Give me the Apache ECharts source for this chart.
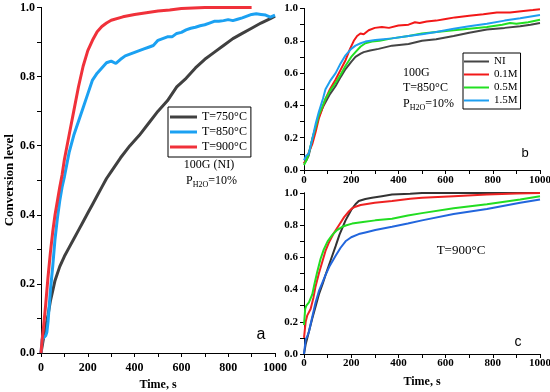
<!DOCTYPE html>
<html><head><meta charset="utf-8">
<script src="https://cdn.jsdelivr.net/npm/echarts@6/dist/echarts.min.js"></script>
<style>html,body{margin:0;padding:0;background:#fff}#c{width:550px;height:392px}</style>
</head><body><div id="c"></div>
<script>
// ---------- Panel a : 100G (NI), PH2O=10% ----------
const aT750 = [0,10,20,30,40,50,60,80,100,120,140,160,180,200,220,240,260,280,300,340,380,420,460,500,540,580,620,660,700,740,780,820,860,900,940,980,1000];
const aY750 = [0,0.04,0.075,0.11,0.15,0.18,0.21,0.25,0.28,0.305,0.33,0.355,0.38,0.405,0.43,0.455,0.48,0.505,0.525,0.565,0.6,0.63,0.665,0.70,0.73,0.77,0.795,0.825,0.85,0.87,0.89,0.91,0.925,0.94,0.955,0.968,0.975];
const aT850 = [0,5,10,20,25,30,40,50,60,70,80,90,100,120,140,160,180,200,220,240,260,280,300,320,340,360,380,400,420,440,460,480,500,520,540,560,580,600,620,640,660,680,700,720,740,760,780,800,820,840,860,880,900,920,940,960,980,1000];
const aY850 = [0,0.04,0.045,0.05,0.06,0.09,0.18,0.25,0.33,0.39,0.44,0.48,0.51,0.58,0.63,0.67,0.71,0.75,0.79,0.81,0.825,0.84,0.845,0.838,0.85,0.86,0.865,0.87,0.875,0.88,0.885,0.89,0.905,0.91,0.915,0.915,0.925,0.928,0.935,0.94,0.943,0.947,0.95,0.955,0.96,0.96,0.962,0.965,0.962,0.966,0.97,0.975,0.98,0.982,0.98,0.978,0.972,0.978];
const aT900 = [0,5,10,20,30,40,50,60,70,80,90,100,120,140,160,180,200,220,240,260,280,300,350,400,450,500,550,600,700,800,900];
const aY900 = [0,0.04,0.07,0.14,0.22,0.29,0.35,0.40,0.44,0.48,0.515,0.56,0.63,0.70,0.77,0.83,0.875,0.905,0.93,0.945,0.955,0.963,0.973,0.98,0.985,0.99,0.993,0.997,1.0,1.0,1.0];

// ---------- Panel b : 100G, T=850°C ----------
const bTNI = [0,10,20,35,50,63,80,91,110,134,155,176,200,218,240,253,280,316,373,443,500,560,634,700,775,850,916,960,1000];
const bYNI = [0.04,0.06,0.09,0.19,0.27,0.33,0.39,0.42,0.47,0.52,0.575,0.625,0.67,0.70,0.72,0.73,0.74,0.75,0.77,0.78,0.80,0.81,0.83,0.85,0.87,0.88,0.89,0.90,0.91];
const bT01 = [0,10,21,35,50,63,80,91,110,134,155,176,195,211,225,239,253,274,300,330,360,400,443,470,490,520,560,600,640,700,760,817,873,930,970,1000];
const bY01 = [0.04,0.07,0.11,0.16,0.24,0.32,0.39,0.44,0.50,0.56,0.62,0.68,0.75,0.80,0.83,0.845,0.84,0.865,0.88,0.885,0.88,0.895,0.90,0.915,0.91,0.92,0.925,0.935,0.945,0.955,0.965,0.975,0.975,0.985,0.99,0.995];
const bT05 = [0,10,20,35,50,63,80,91,110,134,155,176,200,218,240,260,288,320,373,443,500,560,634,700,775,840,873,900,950,1000];
const bY05 = [0.03,0.06,0.10,0.19,0.27,0.34,0.40,0.44,0.49,0.54,0.59,0.645,0.70,0.73,0.765,0.785,0.795,0.80,0.815,0.83,0.845,0.855,0.865,0.875,0.885,0.90,0.91,0.905,0.915,0.93];
const bT15 = [0,10,20,35,50,63,80,91,110,134,155,176,200,218,240,260,302,373,443,500,560,634,700,775,850,916,1000];
const bY15 = [0.06,0.09,0.10,0.19,0.29,0.36,0.44,0.50,0.55,0.60,0.66,0.71,0.75,0.77,0.785,0.795,0.805,0.815,0.83,0.84,0.855,0.875,0.89,0.905,0.925,0.94,0.96];

// ---------- Panel c : T=900°C ----------
const cTNI = [0,7,14,20,35,50,63,80,91,110,134,150,176,200,218,232,260,288,330,373,450,500,600,800,1000];
const cYNI = [0,0.06,0.10,0.11,0.22,0.30,0.37,0.44,0.49,0.57,0.67,0.74,0.83,0.895,0.93,0.95,0.963,0.97,0.98,0.99,0.995,1.0,1.0,1.0,1.0];
const cT01 = [0,7,14,28,40,49,63,77,91,105,126,148,170,190,204,218,240,260,300,373,450,500,634,775,900,1000];
const cY01 = [0.10,0.20,0.24,0.28,0.35,0.42,0.50,0.57,0.64,0.69,0.75,0.80,0.85,0.885,0.905,0.915,0.925,0.93,0.94,0.95,0.965,0.97,0.98,0.99,0.997,1.0];
const cT05 = [0,5,10,21,35,45,56,70,84,100,120,140,162,180,204,250,302,373,440,500,634,775,916,1000];
const cY05 = [0.18,0.28,0.30,0.32,0.37,0.44,0.51,0.59,0.65,0.70,0.74,0.77,0.79,0.80,0.81,0.82,0.83,0.84,0.86,0.875,0.905,0.93,0.96,0.98];
const cT15 = [0,7,14,21,35,49,63,77,91,110,134,155,176,200,232,260,302,373,440,500,634,775,916,1000];
const cY15 = [0,0.09,0.11,0.14,0.23,0.32,0.39,0.44,0.49,0.55,0.61,0.66,0.70,0.725,0.745,0.755,0.77,0.79,0.81,0.83,0.87,0.90,0.94,0.96];

const yTicks = [0,0.2,0.4,0.6,0.8,1.0];
const xTicks = [0,200,400,600,800,1000];

const zip = (t, y) => t.map((v, i) => [v, y[i]]);
const SERIF = 'Liberation Serif, Times New Roman, serif';

function axes(gi, o) {
  const lab = {show:true, fontFamily:SERIF, fontWeight:'bold', fontSize:o.fs, color:'#000'};
  const line = {show:true, lineStyle:{color:'#000', width:1}};
  const xs = [
    {gridIndex:gi, type:'value', min:xTicks[0], max:xTicks[xTicks.length-1], interval:200, position:'bottom',
     axisLine:line, axisTick:{show:true, inside:false, length:4, lineStyle:{color:'#000'}},
     minorTick:{show:true, splitNumber:2, length:2.5, lineStyle:{color:'#000'}},
     splitLine:{show:false}, axisLabel:Object.assign({margin:o.xm, formatter:v=>String(v)}, lab),
     name:o.xname||'', nameLocation:'middle', nameGap:o.xng||22,
     nameTextStyle:{fontFamily:SERIF, fontWeight:'bold', fontSize:o.nfs||12, color:'#000'}},
    {gridIndex:gi, type:'value', min:0, max:1000, interval:200, position:'top',
     axisLine:line, axisTick:{show:true, inside:true, length:4, lineStyle:{color:'#000'}},
     minorTick:{show:true, splitNumber:2, length:4, lineStyle:{color:'#000'}},
     splitLine:{show:false}, axisLabel:{show:false}}
  ];
  const ys = [
    {gridIndex:gi, type:'value', min:yTicks[0], max:yTicks[yTicks.length-1], interval:0.2, position:'left',
     axisLine:line, axisTick:{show:true, inside:false, length:4, lineStyle:{color:'#000'}},
     minorTick:{show:true, splitNumber:2, length:2.5, lineStyle:{color:'#000'}},
     splitLine:{show:false}, axisLabel:Object.assign({margin:o.ym, formatter:v=>v.toFixed(1)}, lab),
     name:o.yname||'', nameLocation:'middle', nameGap:o.yng||26,
     nameTextStyle:{fontFamily:SERIF, fontWeight:'bold', fontSize:13, color:'#000'}},
    {gridIndex:gi, type:'value', min:0, max:1, interval:0.2, position:'right',
     axisLine:line, axisTick:{show:true, inside:true, length:4, lineStyle:{color:'#000'}},
     minorTick:{show:true, splitNumber:2, length:4, lineStyle:{color:'#000'}},
     splitLine:{show:false}, axisLabel:{show:false}}
  ];
  return {xs, ys};
}

const A = axes(0, {fs:12, xm:9, ym:6, xname:'Time, s', xng:24, yname:'Conversion level', yng:25});
const B = axes(1, {fs:11, xm:5, ym:6});
const C = axes(2, {fs:11, xm:4, ym:6, xname:'Time, s', xng:22});

function ser(name, gi, t, y, color, w) {
  return {name, type:'line', xAxisIndex:2*gi, yAxisIndex:2*gi, data:zip(t, y),
    symbol:'none', smooth:false, lineStyle:{color, width:w}, itemStyle:{color}, silent:true, animation:false, z:3};
}

const sub = {
  n:{fontFamily:SERIF, fontSize:12, color:'#000', lineHeight:16, verticalAlign:'middle'},
  s:{fontFamily:SERIF, fontSize:8, color:'#000', lineHeight:9, verticalAlign:'bottom'}
};

const option = {
  animation:false,
  backgroundColor:'#fff',
  grid:[
    {left:41, top:7.5, width:234, height:345.5, outerBoundsMode:'none', containLabel:false},
    {left:304, top:8.5, width:236, height:161.5, outerBoundsMode:'none', containLabel:false},
    {left:304, top:193, width:236, height:161, outerBoundsMode:'none', containLabel:false}
  ],
  xAxis:[...A.xs, ...B.xs, ...C.xs],
  yAxis:[...A.ys, ...B.ys, ...C.ys],
  legend:[
    {data:['T=750°C','T=850°C','T=900°C'], orient:'vertical', left:168, top:107,
     icon:'rect', itemWidth:27, itemHeight:3, itemGap:1, padding:[3,4,3,2],
     backgroundColor:'#fff', borderColor:'#000', borderWidth:1, borderRadius:0,
     textStyle:{fontFamily:SERIF, fontSize:12, color:'#000', lineHeight:14}, selectedMode:false},
    {data:['NI','0.1M','0.5M','1.5M'], orient:'vertical', left:463, top:53,
     icon:'rect', itemWidth:25, itemHeight:2, itemGap:0, padding:[2,3,2,1],
     backgroundColor:'#fff', borderColor:'#000', borderWidth:1, borderRadius:0,
     textStyle:{fontFamily:SERIF, fontSize:11, color:'#000', lineHeight:13}, selectedMode:false}
  ],
  graphic:[
    {type:'text', x:209, y:165, style:{text:'100G (NI)', font:'12px '+SERIF, fill:'#000', align:'center', verticalAlign:'middle'}},
    {type:'text', x:186, y:181, style:{text:'{n|P}{s|H2O}{n|=10%}', rich:sub, align:'left', verticalAlign:'middle'}},
    {type:'text', x:261, y:335, style:{text:'a', font:'16px Liberation Sans, Arial, sans-serif', fill:'#000', align:'center', verticalAlign:'middle'}},
    {type:'text', x:403, y:73, style:{text:'100G', font:'12px '+SERIF, fill:'#000', align:'left', verticalAlign:'middle'}},
    {type:'text', x:403, y:88, style:{text:'T=850°C', font:'12px '+SERIF, fill:'#000', align:'left', verticalAlign:'middle'}},
    {type:'text', x:403, y:104, style:{text:'{n|P}{s|H2O}{n|=10%}', rich:sub, align:'left', verticalAlign:'middle'}},
    {type:'text', x:525, y:153, style:{text:'b', font:'13px Liberation Sans, Arial, sans-serif', fill:'#000', align:'center', verticalAlign:'middle'}},
    {type:'text', x:461, y:251, style:{text:'T=900°C', font:'13px '+SERIF, fill:'#000', align:'center', verticalAlign:'middle'}},
    {type:'text', x:518, y:342, style:{text:'c', font:'14px Liberation Sans, Arial, sans-serif', fill:'#000', align:'center', verticalAlign:'middle'}}
  ],
  series:[
    ser('T=750°C', 0, aT750, aY750, '#404040', 3),
    ser('T=850°C', 0, aT850, aY850, '#1ba1f2', 3),
    ser('T=900°C', 0, aT900, aY900, '#f0313a', 3),
    ser('NI', 1, bTNI, bYNI, '#454545', 2),
    ser('0.1M', 1, bT01, bY01, '#f21818', 2),
    ser('0.5M', 1, bT05, bY05, '#22e022', 2),
    ser('1.5M', 1, bT15, bY15, '#1e9ff0', 2),
    ser('NI-c', 2, cTNI, cYNI, '#333333', 2),
    ser('0.1M-c', 2, cT01, cY01, '#ee2222', 2),
    ser('0.5M-c', 2, cT05, cY05, '#22dd22', 2),
    ser('1.5M-c', 2, cT15, cY15, '#2266dd', 2)
  ]
};
const chart = echarts.init(document.getElementById('c'), null, {renderer:'canvas'});
chart.setOption(option);
</script></body></html>
